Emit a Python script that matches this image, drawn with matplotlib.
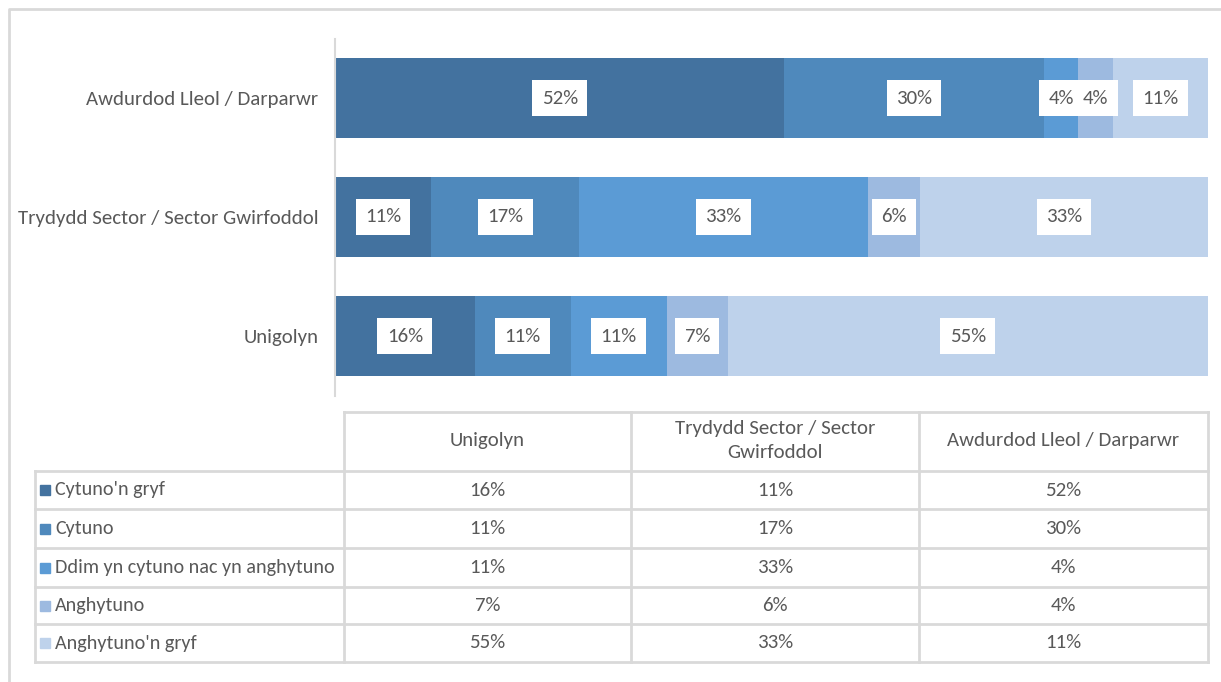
import matplotlib.pyplot as plt
from matplotlib import font_manager

# fuente estrecha parecida a Calibri, si está instalada
disponibles = {f.name for f in font_manager.fontManager.ttflist}
candidatas = ["Carlito", "Liberation Sans Narrow", "Roboto Condensed", "Open Sans Condensed",
              "PT Sans Narrow", "Archivo Narrow", "DejaVu Sans"]
fuente = next(f for f in candidatas if f in disponibles)
plt.rcParams['font.family'] = [fuente, 'DejaVu Sans']

# categorías (de abajo a arriba, como en el gráfico)
categorias = ["Unigolyn", "Trydydd Sector / Sector Gwirfoddol", "Awdurdod Lleol / Darparwr"]
cabeceras = ["Unigolyn", "Trydydd Sector / Sector\nGwirfoddol", "Awdurdod Lleol / Darparwr"]
series = ["Cytuno'n gryf", "Cytuno", "Ddim yn cytuno nac yn anghytuno",
          "Anghytuno", "Anghytuno'n gryf"]

cytuno_gryf = [16, 11, 52]
cytuno = [11, 17, 30]
ddim = [11, 33, 4]
anghytuno = [7, 6, 4]
anghytuno_gryf = [55, 33, 11]
valores = [cytuno_gryf, cytuno, ddim, anghytuno, anghytuno_gryf]

colores = ["#43729F", "#4F89BC", "#5B9BD5", "#9DBAE0", "#BED2EB"]
gris_texto = "#595959"
gris_linea = "#D9D9D9"
tam = 15  # tamaño de letra

W, H = 1221, 682
fig = plt.figure(figsize=(W / 100, H / 100), dpi=100)

# --- barras apiladas al 100% ---
ax = fig.add_axes([335 / W, (H - 395.5) / H, 873 / W, 357 / H])
totales = [sum(v[i] for v in valores) for i in range(len(categorias))]
izquierda = [0.0] * len(categorias)
for nombre, vals, col in zip(series, valores, colores):
    pct = [v / t * 100 for v, t in zip(vals, totales)]
    barras = ax.barh(categorias, pct, left=izquierda, height=0.67, color=col, label=nombre)
    ax.bar_label(barras, labels=[f"{v}%" for v in vals], label_type="center",
                 fontsize=tam, color=gris_texto,
                 bbox=dict(boxstyle="square,pad=0.45", facecolor="white", edgecolor="none"))
    izquierda = [a + b for a, b in zip(izquierda, pct)]

ax.set_xlim(0, 100)
ax.set_ylim(-0.5, 2.5)
ax.set_xticks([])
for lado in ["top", "right", "bottom"]:
    ax.spines[lado].set_visible(False)
ax.spines["left"].set_color(gris_linea)
ax.spines["left"].set_linewidth(1.5)
ax.tick_params(axis="y", length=0, pad=12, labelsize=tam, labelcolor=gris_texto)

# --- tabla de datos (en píxeles) ---
tb = fig.add_axes([0, 0, 1, 1], zorder=-1)
tb.set_xlim(0, W)
tb.set_ylim(H, 0)
tb.axis("off")

# marco exterior
tb.plot([8.5, 8.5, W], [H, 8.5, 8.5], color=gris_linea, lw=2)

col_x = [35, 344, 631, 919, 1208]
fila_y = [412, 471, 509, 548, 587, 624, 662]
kw = dict(color=gris_linea, lw=2, solid_capstyle="projecting")

# cabecera
tb.plot([col_x[1], col_x[-1]], [fila_y[0]] * 2, **kw)
for x in col_x[1:]:
    tb.plot([x, x], [fila_y[0], fila_y[-1]], **kw)
tb.plot([col_x[0], col_x[0]], [fila_y[1], fila_y[-1]], **kw)
for y in fila_y[1:]:
    tb.plot([col_x[0], col_x[-1]], [y, y], **kw)

for j, cab in enumerate(cabeceras):
    tb.text((col_x[j + 1] + col_x[j + 2]) / 2, (fila_y[0] + fila_y[1]) / 2 - 1, cab,
            ha="center", va="center", fontsize=tam, color=gris_texto, linespacing=1.5)

for i, (nombre, vals, col) in enumerate(zip(series, valores, colores)):
    yc = (fila_y[i + 1] + fila_y[i + 2]) / 2
    tb.add_patch(plt.Rectangle((40, yc - 5), 10, 10, color=col))
    tb.text(55, yc, nombre, ha="left", va="center", fontsize=14.5, color=gris_texto)
    for j, v in enumerate(vals):
        tb.text((col_x[j + 1] + col_x[j + 2]) / 2, yc, f"{v}%",
                ha="center", va="center", fontsize=tam, color=gris_texto)

fig.savefig("out.png", dpi=100, facecolor="white")
